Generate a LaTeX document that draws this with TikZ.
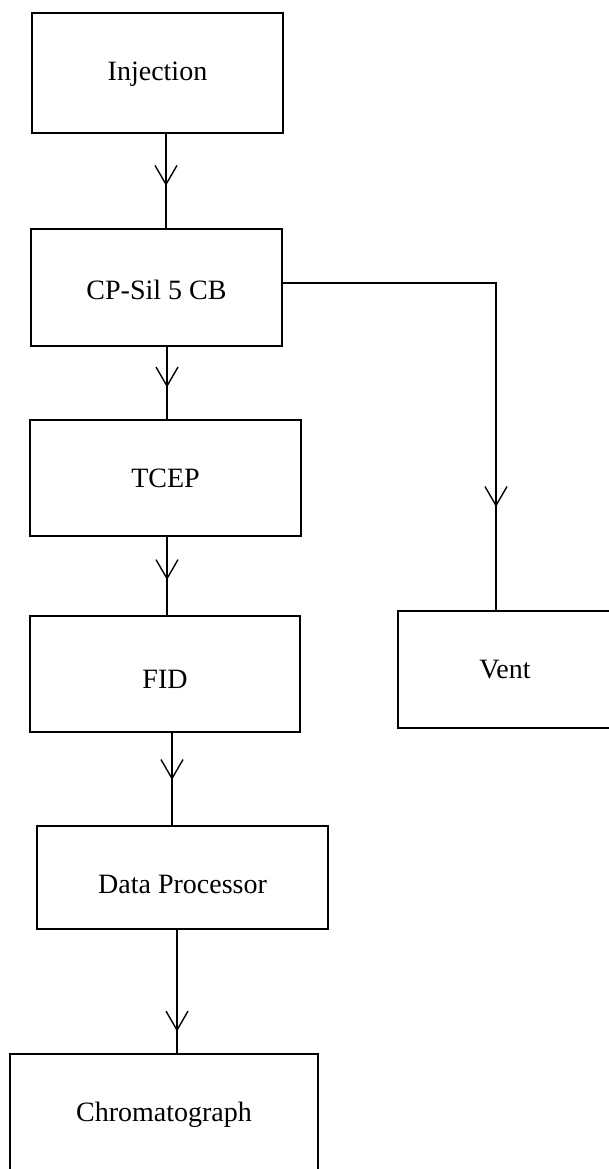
\documentclass[tikz,border=0pt]{standalone}
\usepackage{fontspec}
\setmainfont{Liberation Serif}
\usetikzlibrary{arrows.meta,decorations.markings}

\tikzset{
  box/.style={draw, line width=1.8pt, rectangle, inner sep=0pt, outer sep=0pt,
    font=\fontsize{28}{32}\selectfont, text height=18.5pt, text depth=0pt},
  flow/.style={line width=1.4pt},
  midhead/.style={decoration={markings,
      mark=at position #1 with {\arrow{Straight Barb[length=19pt,width=22pt,line width=1.4pt]}}},
    postaction=decorate},
}

\begin{document}
\begin{tikzpicture}[x=1pt,y=-1pt]
  \useasboundingbox (0,0) rectangle (609,1169);
  \clip (0,0) rectangle (609,1169);

  % process chain
  \node[box, minimum width=251pt, minimum height=120pt, text height=14.5pt] (inj) at (157.5,73) {Injection};
  \node[box, minimum width=251pt, minimum height=117pt, text height=23.5pt] (cp) at (156.5,287.5) {CP-Sil 5 CB};
  \node[box, minimum width=271pt, minimum height=116pt] (tcep) at (165.5,478) {TCEP};
  \node[box, minimum width=270pt, minimum height=116pt, text height=29.5pt] (fid) at (165,674) {FID};
  \node[box, minimum width=291pt, minimum height=103pt, text height=32.5pt] (dp) at (182.5,877.5) {Data Processor};
  \node[box, minimum width=308pt, minimum height=117pt] (chrom) at (164,1112.5) {Chromatograph};

  % split outlet
  \node[box, minimum width=214pt, minimum height=117pt] (vent) at (505,669.5) {Vent};

  % connectors
  \draw[flow, midhead=0.55] ([xshift=8.5pt]inj.south) -- ([xshift=8.5pt]inj.south |- cp.north);
  \draw[flow, midhead=0.56] ([xshift=10.5pt]cp.south) -- ([xshift=10.5pt]cp.south |- tcep.north);
  \draw[flow, midhead=0.55] ([xshift=1.5pt]tcep.south) -- ([xshift=1.5pt]tcep.south |- fid.north);
  \draw[flow, midhead=0.51] ([xshift=7pt]fid.south) -- ([xshift=7pt]fid.south |- dp.north);
  \draw[flow, midhead=0.82] ([xshift=-5.5pt]dp.south) -- ([xshift=-5.5pt]dp.south |- chrom.north);
  \draw[flow, midhead=0.808] ([yshift=4.5pt]cp.east) -| ([xshift=-9pt]vent.north);
\end{tikzpicture}
\end{document}
